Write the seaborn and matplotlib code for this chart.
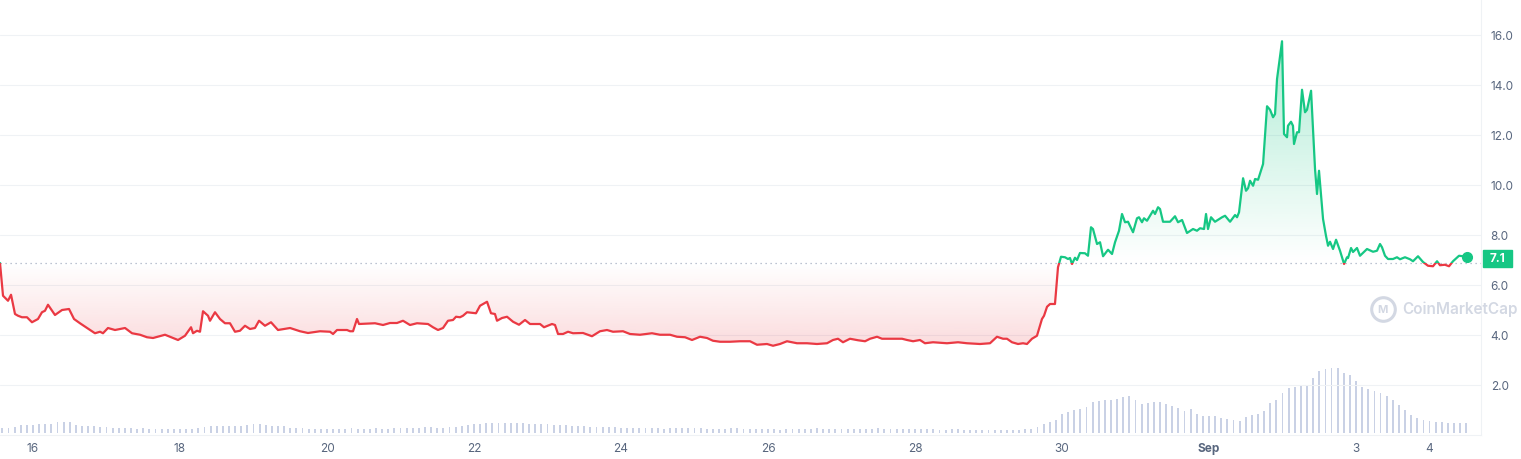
import numpy as np
import matplotlib
matplotlib.use("Agg")
import matplotlib.pyplot as plt
import seaborn as sns
from matplotlib.patches import Rectangle, PathPatch
from matplotlib.path import Path
from matplotlib.transforms import blended_transform_factory

# --- DATA ---
# time as day-of-August (Sep 1 = 32)
day = [
    15.551, 15.592, 15.660, 15.701, 15.755, 15.796, 15.850, 15.918, 15.986, 16.068,
    16.122, 16.163, 16.204, 16.299, 16.395, 16.490, 16.558, 16.639, 16.735, 16.843,
    16.912, 16.952, 17.020, 17.116, 17.252, 17.347, 17.456, 17.551, 17.633, 17.796,
    17.864, 17.973, 18.068, 18.150, 18.177, 18.231, 18.272, 18.313, 18.381, 18.408,
    18.476, 18.544, 18.612, 18.680, 18.748, 18.816, 18.884, 18.952, 19.020, 19.075,
    19.156, 19.238, 19.333, 19.497, 19.633, 19.741, 19.905, 20.041, 20.082, 20.136,
    20.272, 20.313, 20.354, 20.408, 20.435, 20.585, 20.653, 20.762, 20.857, 20.952,
    21.034, 21.129, 21.224, 21.374, 21.442, 21.510, 21.578, 21.646, 21.714, 21.755,
    21.809, 21.850, 21.905, 22.027, 22.082, 22.177, 22.231, 22.285, 22.313, 22.381,
    22.449, 22.531, 22.612, 22.694, 22.762, 22.898, 22.952, 23.061, 23.102, 23.143,
    23.211, 23.279, 23.347, 23.483, 23.605, 23.714, 23.809, 23.891, 24.027, 24.122,
    24.258, 24.421, 24.530, 24.667, 24.762, 24.871, 24.966, 25.075, 25.170, 25.251,
    25.347, 25.483, 25.619, 25.755, 25.850, 25.986, 26.068, 26.163, 26.258, 26.394,
    26.530, 26.666, 26.803, 26.884, 26.952, 27.020, 27.115, 27.224, 27.320, 27.388,
    27.483, 27.551, 27.700, 27.823, 27.891, 27.973, 28.067, 28.135, 28.245, 28.435,
    28.585, 28.707, 28.884, 29.020, 29.115, 29.197, 29.251, 29.319, 29.401, 29.469,
    29.523, 29.591, 29.659, 29.727, 29.755, 29.796, 29.837, 29.904, 29.945, 29.986,
    30.040, 30.081, 30.108, 30.136, 30.176, 30.204, 30.244, 30.312, 30.353, 30.394,
    30.421, 30.476, 30.517, 30.558, 30.626, 30.680, 30.721, 30.775, 30.816, 30.857,
    30.898, 30.966, 31.020, 31.047, 31.088, 31.115, 31.156, 31.238, 31.265, 31.306,
    31.333, 31.374, 31.469, 31.537, 31.578, 31.633, 31.700, 31.782, 31.836, 31.877,
    31.932, 31.959, 31.986, 32.027, 32.081, 32.177, 32.218, 32.286, 32.354, 32.381,
    32.408, 32.463, 32.503, 32.531, 32.558, 32.599, 32.626, 32.667, 32.735, 32.789,
    32.830, 32.871, 32.898, 32.925, 32.993, 33.020, 33.061, 33.074, 33.115, 33.142,
    33.156, 33.197, 33.224, 33.265, 33.306, 33.333, 33.388, 33.442, 33.469, 33.496,
    33.551, 33.591, 33.619, 33.646, 33.687, 33.728, 33.782, 33.837, 33.877, 33.891,
    33.932, 33.959, 34.013, 34.054, 34.149, 34.231, 34.285, 34.326, 34.353, 34.394,
    34.435, 34.503, 34.557, 34.598, 34.666, 34.734, 34.775, 34.843, 34.911, 34.979,
    35.047, 35.102, 35.142, 35.210, 35.265, 35.319, 35.401, 35.510,
]
price = [
    6.88, 5.57, 5.37, 5.61, 4.84, 4.77, 4.71, 4.71, 4.51, 4.64,
    4.91, 4.97, 5.21, 4.80, 5.00, 5.04, 4.64, 4.47, 4.28, 4.07,
    4.13, 4.07, 4.28, 4.20, 4.28, 4.07, 4.01, 3.91, 3.88, 4.01,
    3.93, 3.80, 3.97, 4.31, 4.07, 4.17, 4.13, 4.95, 4.77, 4.57,
    4.91, 4.64, 4.47, 4.47, 4.13, 4.17, 4.37, 4.24, 4.28, 4.57,
    4.37, 4.51, 4.20, 4.28, 4.15, 4.08, 4.15, 4.13, 4.04, 4.20,
    4.20, 4.15, 4.15, 4.64, 4.44, 4.46, 4.47, 4.40, 4.48, 4.48,
    4.57, 4.40, 4.47, 4.44, 4.31, 4.20, 4.28, 4.57, 4.60, 4.73,
    4.71, 4.77, 4.91, 4.87, 5.17, 5.33, 4.87, 4.84, 4.57, 4.68,
    4.73, 4.53, 4.41, 4.60, 4.44, 4.44, 4.31, 4.44, 4.40, 4.04,
    4.04, 4.13, 4.07, 4.08, 3.95, 4.15, 4.20, 4.13, 4.15, 4.04,
    4.01, 4.07, 4.01, 4.01, 3.93, 3.91, 3.80, 3.93, 3.88, 3.77,
    3.73, 3.73, 3.75, 3.75, 3.61, 3.64, 3.57, 3.64, 3.75, 3.67,
    3.67, 3.64, 3.67, 3.80, 3.85, 3.71, 3.85, 3.79, 3.75, 3.85,
    3.93, 3.85, 3.85, 3.85, 3.80, 3.75, 3.80, 3.67, 3.71, 3.67,
    3.71, 3.67, 3.64, 3.67, 3.93, 3.85, 3.85, 3.71, 3.64, 3.67,
    3.64, 3.85, 3.97, 4.64, 4.77, 5.13, 5.24, 5.24, 6.71, 7.13,
    7.11, 7.04, 7.08, 6.84, 7.09, 7.00, 7.28, 7.27, 7.17, 8.31,
    8.24, 7.64, 7.71, 7.15, 7.41, 7.24, 7.71, 8.17, 8.84, 8.51,
    8.53, 8.11, 8.67, 8.71, 8.51, 8.67, 8.57, 8.97, 8.84, 9.11,
    9.04, 8.53, 8.53, 8.75, 8.51, 8.60, 8.08, 8.24, 8.17, 8.27,
    8.24, 8.84, 8.24, 8.71, 8.53, 8.71, 8.77, 8.53, 8.80, 8.71,
    8.91, 10.27, 9.77, 9.87, 10.17, 9.97, 10.24, 10.21, 10.84, 13.15,
    13.01, 12.71, 12.84, 14.24, 15.75, 12.04, 11.91, 12.37, 12.53, 12.37,
    11.64, 12.11, 12.11, 13.81, 12.91, 13.01, 13.77, 10.64, 9.64, 10.57,
    8.64, 7.97, 7.57, 7.73, 7.44, 7.81, 7.37, 6.84, 7.11, 7.08,
    7.48, 7.32, 7.48, 7.17, 7.44, 7.33, 7.37, 7.64, 7.51, 7.17,
    7.04, 7.04, 7.11, 7.03, 7.11, 7.03, 6.95, 7.15, 6.92, 6.77,
    6.75, 6.95, 6.79, 6.81, 6.75, 6.95, 7.17, 7.13,
]
open_price = 6.88
last_label = "7.1"

# 2-hourly volume, first bar Aug 15 14:00
vol_start = 15 + 14 / 24
volume = [
    5, 5, 6, 8, 8,                                   # Aug 15
    8, 9, 9, 9, 11, 11, 11, 8, 7, 7, 7, 6,           # Aug 16
    6, 5, 5, 5, 5, 4, 5, 4, 4, 4, 4, 4,              # Aug 17
    4, 4, 4, 5, 6, 7, 7, 7, 7, 7, 7, 8,              # Aug 18
    9, 9, 8, 7, 7, 7, 5, 5, 5, 4, 4, 4,              # Aug 19
    4, 4, 4, 4, 5, 4, 4, 4, 5, 4, 4, 5,              # Aug 20
    5, 5, 5, 5, 6, 6, 5, 5, 6, 6, 7, 8,              # Aug 21
    9, 9, 10, 10, 10, 10, 10, 10, 10, 9, 9, 9,       # Aug 22
    9, 8, 8, 8, 7, 7, 7, 6, 6, 6, 6, 6,              # Aug 23
    5, 5, 5, 5, 5, 5, 5, 4, 5, 5, 5, 5,              # Aug 24
    5, 5, 4, 4, 4, 4, 5, 5, 4, 4, 4, 4,              # Aug 25
    4, 4, 3, 4, 4, 4, 4, 4, 5, 4, 4, 4,              # Aug 26
    4, 4, 4, 4, 4, 4, 5, 4, 4, 4, 4, 4,              # Aug 27
    4, 4, 4, 4, 3, 3, 4, 4, 3, 3, 3, 3,              # Aug 28
    3, 3, 3, 3, 3, 3, 4, 4, 6, 9, 11, 13,            # Aug 29
    19, 21, 23, 24, 26, 31, 32, 33, 33, 34, 36, 37,  # Aug 30
    33, 29, 30, 31, 31, 29, 27, 25, 22, 24, 19, 17,  # Aug 31
    17, 17, 15, 14, 13, 12, 16, 18, 19, 22, 30, 33,  # Sep 1
    40, 45, 46, 47, 48, 55, 62, 64, 65, 65, 60, 58,  # Sep 2
    52, 46, 44, 42, 40, 37, 33, 28, 23, 18, 15, 13,  # Sep 3
    12, 11, 11, 10, 10, 10, 10,                      # Sep 4
]

x_ticks = [16, 18, 20, 22, 24, 26, 28, 30, 32, 34, 35]
x_labels = ["16", "18", "20", "22", "24", "26", "28", "30", "Sep", "3", "4"]
y_ticks = [2, 4, 6, 8, 10, 12, 14, 16]

GREEN = "#16c784"
RED = "#ea3943"
GRID = "#eff2f5"
TXT = "#58667e"

# --- FIGURE ---
sns.set_theme(style="white")
plt.rcParams["font.family"] = ["Inter", "DejaVu Sans"]

fig = plt.figure(figsize=(15.21, 4.6), dpi=100)
ax = fig.add_axes([0.0, 24 / 460, 1481 / 1521, 436 / 460])
xmin, xmax = 15.551, 35.70
ax.set_xlim(xmin, xmax)
ax.set_ylim(0, 17.44)

# volume on a hidden twin axis
ax2 = ax.twinx()
vol_t = vol_start + np.arange(len(volume)) / 12
ax2.bar(vol_t, volume, width=0.3 / 12, color="#c9d1e5", linewidth=0)
ax2.set_ylim(-2, 436)
ax2.set_axis_off()
ax.set_zorder(ax2.get_zorder() + 1)
ax.patch.set_visible(False)

t = np.array(day)
p = np.array(price)

# gradient fills above / below the opening price
def gradient_fill(mask_above, color, y0, y1, a0, a1):
    poly = ax.fill_between(t, p, open_price, where=mask_above, interpolate=True,
                           facecolor="none", edgecolor="none")
    path = Path.make_compound_path(*poly.get_paths())
    patch = PathPatch(path, transform=ax.transData, facecolor="none", edgecolor="none")
    ax.add_patch(patch)
    rgb = matplotlib.colors.to_rgb(color)
    grad = np.zeros((256, 1, 4))
    grad[:, 0, :3] = rgb
    grad[:, 0, 3] = np.linspace(a0, a1, 256)
    im = ax.imshow(grad, extent=[xmin, xmax, y0, y1], origin="lower",
                   aspect="auto", zorder=1)
    im.set_clip_path(patch)

gradient_fill(p >= open_price, GREEN, open_price, p.max(), 0.0, 0.34)
gradient_fill(p <= open_price, RED, p.min(), open_price, 0.18, 0.0)

# price line, coloured by side of the opening price
sns.lineplot(x=t, y=p, color=GREEN, linewidth=1.6, estimator=None, sort=False, ax=ax)
line_up = ax.lines[-1]
line_up.set_clip_path(Rectangle((xmin, open_price), xmax - xmin, 30, transform=ax.transData))
line_up.set_zorder(3)
sns.lineplot(x=t, y=p, color=RED, linewidth=1.6, estimator=None, sort=False, ax=ax)
line_dn = ax.lines[-1]
line_dn.set_clip_path(Rectangle((xmin, -30), xmax - xmin, 30 + open_price, transform=ax.transData))
line_dn.set_zorder(3)
ax.plot(t[-1], p[-1], "o", color=GREEN, markersize=7, zorder=4)

# opening price dotted line
ax.axhline(open_price, color="#a6b0c3", linestyle=(0, (1, 3)), linewidth=0.9, zorder=2)

# grid & spines
for yv in y_ticks:
    ax.axhline(yv, color=GRID, linewidth=0.8, zorder=0)
for s in ["top", "left"]:
    ax.spines[s].set_visible(False)
for s in ["bottom", "right"]:
    ax.spines[s].set_color(GRID)
    ax.spines[s].set_linewidth(0.8)

ax.set_xticks(x_ticks)
ax.set_xticklabels(x_labels)
for lbl in ax.get_xticklabels():
    if lbl.get_text() == "Sep":
        lbl.set_fontweight("bold")
ax.set_yticks(y_ticks)
ax.set_yticklabels([f"{v:.1f}" for v in y_ticks])
ax.yaxis.tick_right()
ax.tick_params(axis="x", length=0, pad=5, labelsize=8.5, labelcolor=TXT)
ax.tick_params(axis="y", length=0, pad=7, labelsize=8.5, labelcolor=TXT)
ax.set_xlabel("")
ax.set_ylabel("")

# last price tag
tr = blended_transform_factory(ax.transAxes, ax.transData)
ax.add_patch(Rectangle((1.00135, 6.72), 0.0196, 0.68, transform=tr, color=GREEN,
                       clip_on=False, zorder=5))
ax.text(1.0111, 7.06, last_label, transform=tr, ha="center", va="center",
        color="white", fontsize=8.5, fontweight="bold", zorder=6, clip_on=False)

# watermark
ax.plot(0.9335, 0.29, "o", transform=ax.transAxes, markersize=17, mfc="none",
        mec="#d3d8e3", mew=2.2, clip_on=False)
ax.text(0.9335, 0.29, "M", transform=ax.transAxes, ha="center", va="center",
        fontsize=8, fontweight="bold", color="#d3d8e3")
ax.text(0.9465, 0.29, "CoinMarketCap", transform=ax.transAxes, ha="left", va="center",
        fontsize=11, fontweight="semibold", color="#d3d8e3", clip_on=False)

fig.savefig("out.png", dpi=100)
